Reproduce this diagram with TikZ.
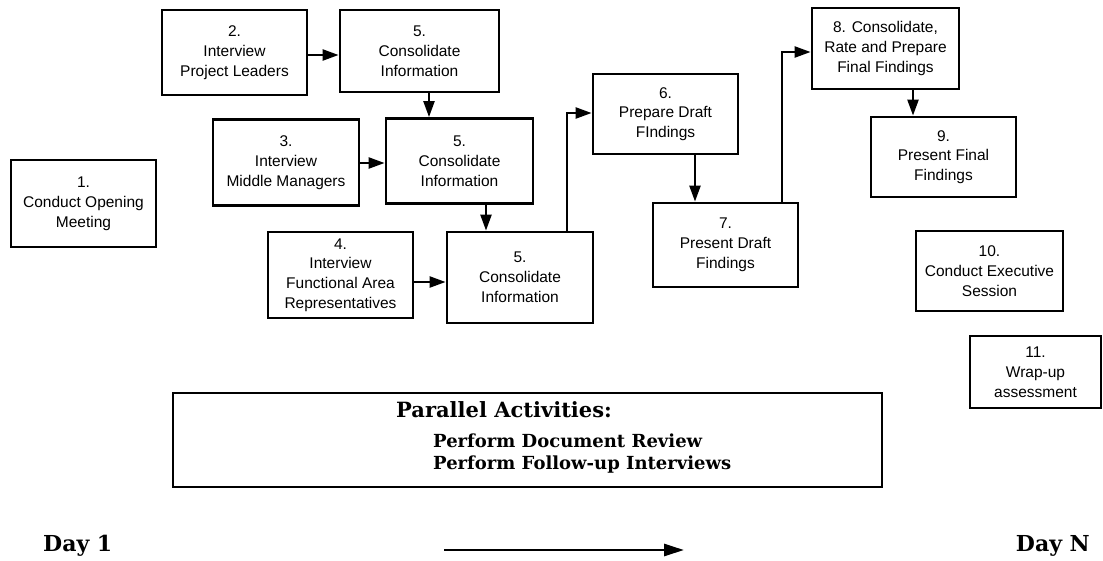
\documentclass[tikz,border=0pt]{standalone}
\usepackage{fontspec}
\setmainfont{Liberation Sans}
\newfontfamily\dvserif{DejaVu Serif}
\usetikzlibrary{arrows.meta}
\begin{document}
\begin{tikzpicture}[x=1pt,y=-1pt,
  box/.style={draw, line width=2.8pt, align=center, inner sep=0pt,
    font=\fontsize{15.5}{19.8}\selectfont},
  arr/.style={line width=2.3pt, -{Triangle[length=16pt,width=11pt]}},
  bigarr/.style={line width=2.8pt, -{Triangle[length=20pt,width=12pt]}},
  sbold/.style={font=\dvserif\bfseries\fontsize{18}{22}\selectfont, anchor=base west, inner sep=0pt},
  hbold/.style={font=\dvserif\bfseries\fontsize{21}{25}\selectfont, anchor=base west, inner sep=0pt}]
\useasboundingbox (0,0) rectangle (1103,560);
% boxes: center, width, height
\node[box, minimum width=145pt, minimum height=87pt] (b1) at (83.5,203.5) {1.\\Conduct Opening\\Meeting};
\node[box, minimum width=145pt, minimum height=85pt] (b2) at (234.5,52.5) {2.\\Interview\\Project Leaders};
\node[box, minimum width=159pt, minimum height=82pt] (b5a) at (419.5,51) {5.\\Consolidate\\Information};
\node[box, minimum width=146pt, minimum height=86pt] (b3) at (286,162.5) {3.\\Interview\\Middle Managers};
\node[box, minimum width=147pt, minimum height=85pt] (b5b) at (459.5,161) {5.\\Consolidate\\Information};
\node[box, minimum width=145pt, minimum height=86pt] (b4) at (340.5,275) {4.\\Interview\\Functional Area\\Representatives};
\node[box, minimum width=146pt, minimum height=91pt] (b5c) at (520,277.5) {5.\\Consolidate\\Information};
\node[box, minimum width=145pt, minimum height=80pt] (b6) at (665.5,114) {6.\\Prepare Draft\\FIndings};
\node[box, minimum width=145pt, minimum height=84pt] (b7) at (725.5,245) {7.\\Present Draft\\Findings};
\node[box, minimum width=147pt, minimum height=81pt] (b8) at (885.5,48.5) {8. Consolidate,\\Rate and Prepare\\Final Findings};
\node[box, minimum width=145pt, minimum height=80pt] (b9) at (943.5,157) {9.\\Present Final\\Findings};
\node[box, minimum width=147pt, minimum height=80pt] (b10) at (989.5,271) {10.\\Conduct Executive\\Session};
\node[box, minimum width=131pt, minimum height=72pt] (b11) at (1035.5,372) {11.\\Wrap-up\\assessment};
% parallel activities
\node[draw, line width=2.8pt, minimum width=709pt, minimum height=94pt, inner sep=0pt] (par) at (527.5,440) {};
\node[hbold] (p0) at (396,417) {Parallel Activities:};
\node[sbold] (p1) at (433,447) {Perform Document Review};
\node[sbold] (p2) at (433,469) {Perform Follow-up Interviews};
% days
\node[hbold, font=\dvserif\bfseries\fontsize{22}{26}\selectfont] (d1) at (43,551) {Day 1};
\node[hbold, font=\dvserif\bfseries\fontsize{22}{26}\selectfont, anchor=base east] (dn) at (1090,551) {Day N};
\coordinate (ta) at (444,550);
\coordinate (tb) at (684,550);
\draw[bigarr] (ta) -- (tb);
% connector x/y positions
\coordinate (xa) at (429,0);
\coordinate (xb) at (486,0);
\coordinate (xc) at (567,113);
\coordinate (xd) at (695,0);
\coordinate (xe) at (782,52);
\coordinate (xf) at (913,0);
\coordinate (ya) at (0,55);
\coordinate (yb) at (0,163);
\coordinate (yc) at (0,282);
% connectors
\draw[arr] (b2.east |- ya) -- (b5a.west |- ya);
\draw[arr] (b5a.south -| xa) -- (b5b.north -| xa);
\draw[arr] (b3.east |- yb) -- (b5b.west |- yb);
\draw[arr] (b5b.south -| xb) -- (b5c.north -| xb);
\draw[arr] (b4.east |- yc) -- (b5c.west |- yc);
\draw[arr] (b5c.north -| xc) -- (xc) -- (b6.west |- xc);
\draw[arr] (b6.south -| xd) -- (b7.north -| xd);
\draw[arr] (b7.north -| xe) -- (xe) -- (b8.west |- xe);
\draw[arr] (b8.south -| xf) -- (b9.north -| xf);
\end{tikzpicture}
\end{document}
